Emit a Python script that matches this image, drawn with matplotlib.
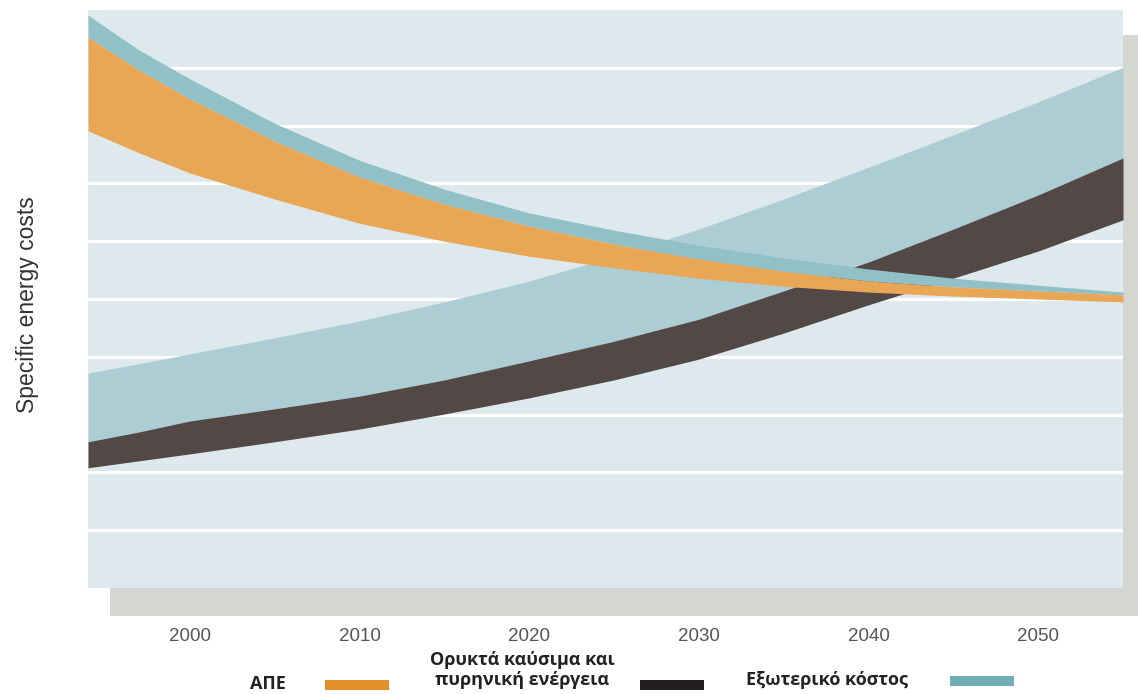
import matplotlib.pyplot as plt
from matplotlib.patches import Rectangle

# Годы и границы полос (условные единицы удельной стоимости)
years = [1994, 1997, 2000, 2005, 2010, 2015, 2020, 2025, 2030, 2035, 2040, 2045, 2050, 2055]

# ВИЭ: нижняя и верхняя граница + внешние издержки сверху
res_low = [7.91, 7.53, 7.18, 6.73, 6.31, 6.00, 5.74, 5.54, 5.36, 5.22, 5.12, 5.05, 5.00, 4.95]
res_high = [9.53, 8.96, 8.46, 7.73, 7.11, 6.64, 6.26, 5.95, 5.69, 5.48, 5.31, 5.21, 5.14, 5.07]
res_ext = [9.91, 9.31, 8.81, 8.04, 7.40, 6.90, 6.49, 6.19, 5.93, 5.71, 5.52, 5.36, 5.24, 5.12]

# Ископаемое топливо и атомная энергия
fos_low = [2.08, 2.20, 2.32, 2.53, 2.75, 3.01, 3.29, 3.60, 3.96, 4.41, 4.90, 5.36, 5.83, 6.37]
fos_high = [2.53, 2.70, 2.89, 3.10, 3.32, 3.60, 3.93, 4.27, 4.65, 5.14, 5.64, 6.21, 6.80, 7.44]
fos_ext = [3.72, 3.88, 4.05, 4.33, 4.62, 4.95, 5.31, 5.74, 6.21, 6.73, 7.28, 7.84, 8.41, 9.01]

xticks = [2000, 2010, 2020, 2030, 2040, 2050]
legend_labels = ['ΑΠΕ', 'Ορυκτά καύσιμα και\nπυρηνική ενέργεια', 'Εξωτερικό κόστος']

W, H = 1138, 694
fig = plt.figure(figsize=(W / 100, H / 100), dpi=100)

# серая "тень" за областью графика
fig.patches.append(Rectangle((110 / W, 1 - 616 / H), 1.0, (616 - 35) / H,
                             transform=fig.transFigure, facecolor='#d4d6d1',
                             edgecolor='none', zorder=0))

ax = fig.add_axes([88 / W, 1 - 588 / H, 1035 / W, 578 / H])
ax.set_zorder(1)
ax.set_facecolor('#dee9ed')

ax.fill_between(years, fos_high, fos_ext, color='#adcdd4', lw=0, zorder=2)
ax.fill_between(years, fos_low, fos_high, color='#524846', lw=0, zorder=3)
ax.fill_between(years, res_high, res_ext, color='#92c0c7', lw=0, zorder=4)
ax.fill_between(years, res_low, res_high, color='#e9a654', lw=0, zorder=5)

ax.set_xlim(years[0], years[-1])
ax.set_ylim(0, 10)
ax.set_yticks(range(1, 10))
ax.set_yticklabels([])
ax.grid(axis='y', color='white', lw=2.3, zorder=1)
ax.set_axisbelow(True)
ax.tick_params(axis='y', length=0)
ax.set_xticks(xticks)
ax.tick_params(axis='x', length=0, pad=29, labelsize=13.5, labelcolor='#555555')
for lbl in ax.get_xticklabels():
    lbl.set_fontfamily(['Liberation Sans', 'DejaVu Sans'])
for s in ax.spines.values():
    s.set_visible(False)

fig.text(28 / W, 1 - 305 / H, 'Specific energy costs', rotation=90,
         ha='center', va='center', fontsize=16.5, color='#333333',
         family=['Liberation Sans', 'DejaVu Sans'])

# легенда снизу
leg_font = dict(fontsize=13, fontweight='bold', color='#222222',
                family=['Open Sans', 'DejaVu Sans'])
fig.text(268 / W, 1 - 684 / H, legend_labels[0], ha='center', va='center', **leg_font)
fig.text(522 / W, 1 - 670 / H, legend_labels[1], ha='center', va='center',
         linespacing=1.15, **leg_font)
fig.text(827 / W, 1 - 680 / H, legend_labels[2], ha='center', va='center', **leg_font)

swatches = [(325, 680, '#e58f2a'), (640, 680, '#231f20'), (950, 676, '#72adb5')]
for x0, y0, c in swatches:
    fig.patches.append(Rectangle((x0 / W, 1 - (y0 + 10) / H), 64 / W, 10 / H,
                                 transform=fig.transFigure, facecolor=c,
                                 edgecolor='none'))

fig.savefig('out.png', dpi=100)
